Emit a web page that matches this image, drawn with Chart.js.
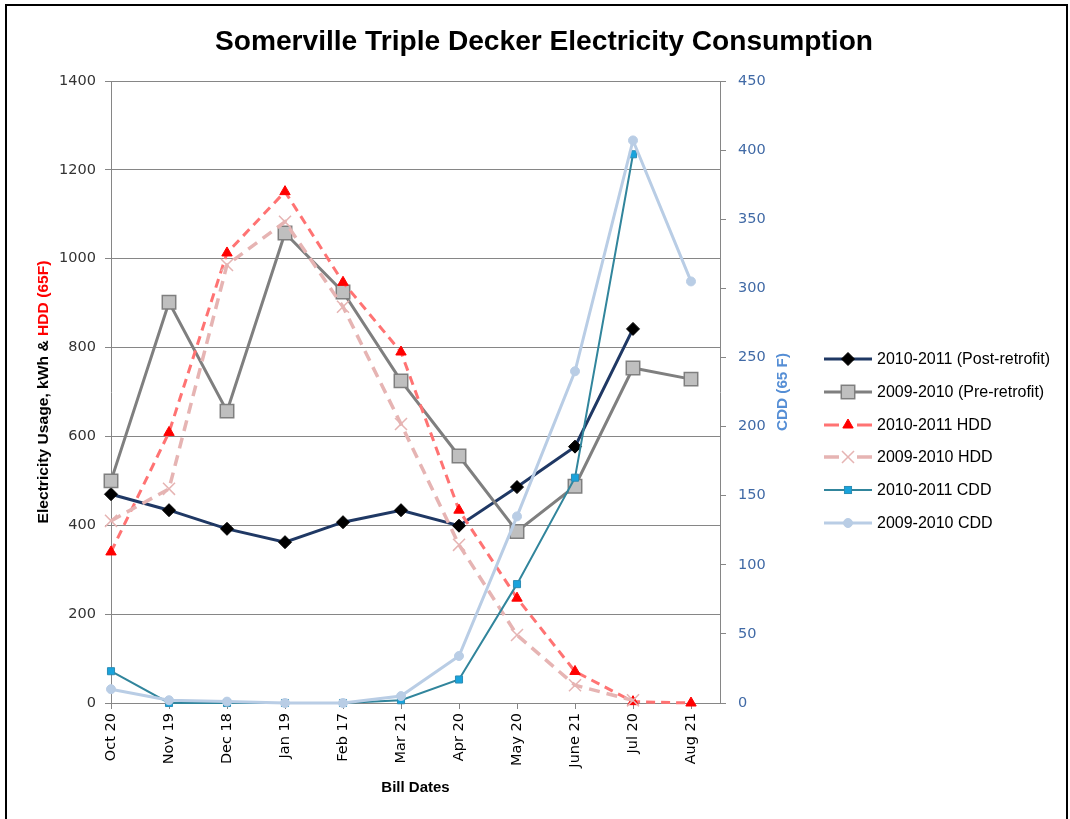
<!DOCTYPE html>
<html><head><meta charset="utf-8">
<script src="https://cdn.jsdelivr.net/npm/chart.js@4.4.1/dist/chart.umd.min.js"></script>
<style>
html,body{margin:0;padding:0;background:#fff;}
#wrap{position:relative;width:1070px;height:819px;overflow:hidden;background:#fff;}
#frame{position:absolute;left:5px;top:4px;width:1063px;height:840px;border:2px solid #000;box-sizing:border-box;pointer-events:none;}
#c{position:absolute;left:0;top:0;}
#legend{position:absolute;left:824px;top:343px;font-family:"Liberation Sans",Arial,sans-serif;font-size:16px;color:#000;}
.row{height:32.7px;display:flex;align-items:center;white-space:nowrap;}
.row svg{width:48px;height:20px;margin-right:5px;flex:none;}
</style></head>
<body><div id="wrap"><canvas id="c" width="1070" height="819"></canvas><div id="legend"></div><div id="frame"></div></div>
<script>
const chartTitle = "Somerville Triple Decker Electricity Consumption";
const categories = ["Oct 20","Nov 19","Dec 18","Jan 19","Feb 17","Mar 21","Apr 20","May 20","June 21","Jul 20","Aug 21"];
const post2010_2011 = [470,434,392,362,407,434,399,486,577,842,null];
const pre2009_2010 = [500,902,657,1058,925,725,556,386,488,754,729];
const hdd2010_2011 = [340,609,1013,1151,947,790,434,236,71,3,0];
const hdd2009_2010 = [410,482,986,1083,892,628,356,153,40,6,null];
const cdd2010_2011 = [23,0,0,0,0,2,17,86,163,397,null];
const cdd2009_2010 = [10,2,1,0,0,5,34,135,240,407,305];
const seriesNames = ["2010-2011 (Post-retrofit)","2009-2010 (Pre-retrofit)","2010-2011 HDD","2009-2010 HDD","2010-2011 CDD","2009-2010 CDD"];
const leftAxisMax = 1400, leftAxisStep = 200;
const rightAxisMax = 450, rightAxisStep = 50;

const toPts = arr => arr.map((v,i)=>({x:i,y:v}));

const datasets = [
  {label:seriesNames[0], data:toPts(post2010_2011), yAxisID:'y', borderColor:'#1F3864', borderWidth:3,
   pointStyle:'rectRot', pointRadius:6.5, pointBackgroundColor:'#000', pointBorderColor:'#000', pointBorderWidth:1},
  {label:seriesNames[1], data:toPts(pre2009_2010), yAxisID:'y', borderColor:'#7F7F7F', borderWidth:3,
   pointStyle:'rect', pointRadius:9.5, pointBackgroundColor:'#BFBFBF', pointBorderColor:'#7F7F7F', pointBorderWidth:1.5},
  {label:seriesNames[2], data:toPts(hdd2010_2011), yAxisID:'y', borderColor:'#FF7373', borderWidth:3, borderDash:[9,6],
   pointStyle:'triangle', pointRadius:6, pointBackgroundColor:'#FF0000', pointBorderColor:'#FF0000', pointBorderWidth:1},
  {label:seriesNames[3], data:toPts(hdd2009_2010), yAxisID:'y', borderColor:'#E6B4B3', borderWidth:3.5, borderDash:[11,7],
   pointStyle:'crossRot', pointRadius:8.5, pointBackgroundColor:'#E6B4B3', pointBorderColor:'#E6B4B3', pointBorderWidth:1.5},
  {label:seriesNames[4], data:toPts(cdd2010_2011), yAxisID:'y2', borderColor:'#31859C', borderWidth:2,
   pointStyle:'rect', pointRadius:5, pointBackgroundColor:'#19A3DC', pointBorderColor:'#2C8DB5', pointBorderWidth:1},
  {label:seriesNames[5], data:toPts(cdd2009_2010), yAxisID:'y2', borderColor:'#B9CDE5', borderWidth:3,
   pointStyle:'circle', pointRadius:4.5, pointBackgroundColor:'#B9CDE5', pointBorderColor:'#B9CDE5', pointBorderWidth:1}
];
datasets.forEach((d,i)=>{ d.order = 10 - i; d.tension = 0; d.clip = false; d.spanGaps = false; d.fill = false; d.borderCapStyle='butt'; });

const textPlugin = {
  id:'texts',
  afterDraw(chart){
    const ctx = chart.ctx, a = chart.chartArea;
    ctx.save();
    ctx.font = 'bold 27px "Liberation Sans", Arial, sans-serif';
    ctx.fillStyle = '#000'; ctx.textAlign='left'; ctx.textBaseline='alphabetic';
    let w = ctx.measureText(chartTitle).width;
    ctx.translate(544, 50); ctx.scale(658/w, 1);
    ctx.fillText(chartTitle, -w/2, 0);
    ctx.restore();
    ctx.save();
    ctx.font = 'bold 14px "Liberation Sans", Arial, sans-serif';
    const p1 = 'Electricity Usage, kWh & ', p2 = 'HDD (65F)';
    const w1 = ctx.measureText(p1).width, w2 = ctx.measureText(p2).width;
    const tot = w1 + w2, sx = 263/tot;
    const cy = (a.top + a.bottom)/2;
    ctx.translate(48, cy); ctx.rotate(-Math.PI/2); ctx.scale(sx,1);
    ctx.textAlign='left'; ctx.textBaseline='alphabetic';
    ctx.fillStyle='#000'; ctx.fillText(p1, -tot/2, 0);
    ctx.fillStyle='#FF0000'; ctx.fillText(p2, -tot/2 + w1, 0);
    ctx.restore();
    ctx.save();
    ctx.font = 'bold 15px "Liberation Sans", Arial, sans-serif';
    const t3 = 'CDD (65 F)';
    const w3 = ctx.measureText(t3).width;
    ctx.translate(787, cy); ctx.rotate(-Math.PI/2); ctx.scale(78/w3,1);
    ctx.fillStyle='#558ED5'; ctx.textAlign='center'; ctx.textBaseline='alphabetic';
    ctx.fillText(t3, 0, 0);
    ctx.restore();
  }
};

const tickFont = {family:'"DejaVu Sans", Verdana, sans-serif', size:14.5};

new Chart(document.getElementById('c'), {
  type:'line',
  data:{datasets},
  options:{
    responsive:false, animation:false, devicePixelRatio:1,
    layout:{padding:{left:0,right:250,top:81,bottom:20}},
    plugins:{legend:{display:false}, title:{display:false}, tooltip:{enabled:false}},
    scales:{
      x:{type:'linear', min:0, max:10.5,
         ticks:{stepSize:1, includeBounds:false, autoSkip:false, minRotation:90, maxRotation:90, color:'#000', font:tickFont, padding:4,
                callback:(v)=>Number.isInteger(v) && categories[v] !== undefined ? categories[v] : ''},
         grid:{drawOnChartArea:false, drawTicks:true, tickLength:6, color:'#868686'},
         border:{color:'#868686', width:1},
         title:{display:true, text:'Bill Dates', color:'#000', font:{family:'"Liberation Sans", Arial, sans-serif', weight:'bold', size:15}, padding:{top:4,bottom:2}},
         afterFit:s=>{s.height=96;}},
      y:{position:'left', min:0, max:leftAxisMax,
         ticks:{stepSize:leftAxisStep, color:'#333333', font:tickFont, padding:9, callback:v=>String(v)},
         grid:{color:'#868686', lineWidth:1, tickLength:6, drawTicks:true},
         border:{color:'#868686', width:1},
         afterFit:s=>{s.width=111;}},
      y2:{position:'right', min:0, max:rightAxisMax,
         ticks:{stepSize:rightAxisStep, color:'#416AA6', font:tickFont, padding:12, callback:v=>String(v)},
         grid:{drawOnChartArea:false, tickLength:6, drawTicks:true, color:'#868686'},
         border:{color:'#868686', width:1},
         afterFit:s=>{s.width=100;}}
    }
  },
  plugins:[textPlugin]
});

function markerSvg(d){
  const cx=24, cy=10, r=d.pointRadius, f=d.pointBackgroundColor, s=d.pointBorderColor, bw=d.pointBorderWidth;
  switch(d.pointStyle){
    case 'rectRot': return `<polygon points="${cx},${cy-r} ${cx+r},${cy} ${cx},${cy+r} ${cx-r},${cy}" fill="${f}" stroke="${s}" stroke-width="${bw}"/>`;
    case 'rect': { const h=r*Math.SQRT1_2; return `<rect x="${cx-h}" y="${cy-h}" width="${2*h}" height="${2*h}" fill="${f}" stroke="${s}" stroke-width="${bw}"/>`; }
    case 'triangle': return `<polygon points="${cx},${cy-r} ${cx+r*0.866},${cy+r*0.5} ${cx-r*0.866},${cy+r*0.5}" fill="${f}" stroke="${s}" stroke-width="${bw}"/>`;
    case 'crossRot': { const h=r*Math.SQRT1_2; return `<path d="M${cx-h},${cy-h}L${cx+h},${cy+h}M${cx+h},${cy-h}L${cx-h},${cy+h}" stroke="${s}" stroke-width="${bw}"/>`; }
    case 'circle': return `<circle cx="${cx}" cy="${cy}" r="${r}" fill="${f}" stroke="${s}" stroke-width="${bw}"/>`;
  }
  return '';
}
const leg = document.getElementById('legend');
datasets.forEach(d=>{
  const dash = d.borderDash ? ' stroke-dasharray="15,18"' : '';
  const row = document.createElement('div'); row.className='row';
  row.innerHTML = `<svg viewBox="0 0 48 20"><line x1="0" y1="10" x2="48" y2="10" stroke="${d.borderColor}" stroke-width="${d.borderWidth}"${dash}/>${markerSvg(d)}</svg><span></span>`;
  row.querySelector('span').textContent = d.label;
  leg.appendChild(row);
});
</script>
</body></html>
